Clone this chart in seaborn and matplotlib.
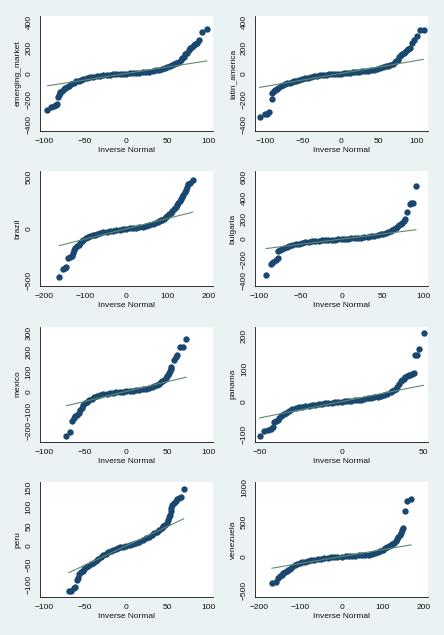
import matplotlib
matplotlib.use("Agg")
import matplotlib.pyplot as plt
import seaborn as sns

# quantile pairs: x = inverse normal, y = ordered values
em_x = [-96, -91, -88, -86, -84, -83, -82, -81, -80, -78, -76, -74, -72, -70,
        -67, -64, -61, -58, -55, -52, -48, -44, -40, -36, -32, -28, -24, -20,
        -16, -12, -8, -4, 0, 4, 8, 12, 16, 20, 24, 28, 32, 36, 40, 44, 47, 50,
        53, 56, 58, 60, 62, 64, 66, 68, 70, 72, 74, 76, 78, 80, 82, 84, 86, 88,
        92, 98]
em_y = [-280, -258, -250, -245, -238, -179, -166, -155, -145, -133, -122, -112,
        -104, -94, -84, -74, -62, -55, -49, -43, -36, -30, -25, -21, -18, -15,
        -12, -9, -6, -4, -3, -1, 0, 2, 3, 5, 7, 9, 12, 15, 19, 24, 29, 36, 42,
        49, 57, 65, 73, 80, 85, 92, 106, 120, 132, 148, 162, 179, 197, 208, 218,
        226, 234, 257, 322, 348]

la_x = [-108, -101, -98, -95, -92, -91, -89, -87, -85, -83, -80, -77, -74, -71,
        -68, -65, -62, -59, -56, -52, -48, -44, -40, -36, -32, -28, -24, -20,
        -16, -12, -8, -4, 0, 4, 8, 12, 16, 20, 24, 28, 32, 36, 40, 44, 48, 52,
        56, 60, 63, 66, 69, 72, 74, 76, 78, 80, 82, 84, 86, 88, 90, 92, 95, 98,
        101, 105, 110]
la_y = [-337, -315, -313, -300, -200, -150, -138, -128, -120, -110, -100, -91,
        -84, -77, -71, -66, -60, -55, -50, -44, -38, -33, -27, -23, -19, -15,
        -12, -9, -6, -4, -2, -1, 0, 2, 4, 6, 8, 11, 13, 16, 19, 22, 26, 31, 36,
        42, 48, 56, 62, 69, 77, 87, 96, 108, 128, 140, 150, 160, 170, 180, 190,
        200, 235, 260, 295, 334, 334]

br_x = [-163, -154, -150, -146, -141, -137, -133, -130, -127, -124, -120, -116,
        -112, -108, -104, -99, -94, -88, -82, -76, -70, -64, -56, -48, -40, -32,
        -24, -16, -8, 0, 8, 16, 24, 32, 40, 48, 56, 64, 70, 76, 80, 84, 88, 92,
        96, 100, 104, 108, 112, 116, 120, 124, 127, 130, 133, 136, 139, 142,
        145, 148, 151, 155, 162]
br_y = [-469, -395, -385, -372, -287, -276, -268, -235, -210, -190, -170, -153,
        -138, -121, -108, -94, -84, -74, -65, -57, -49, -42, -34, -27, -22, -17,
        -12, -8, -4, 0, 4, 8, 12, 17, 22, 27, 34, 43, 52, 63, 72, 82, 90, 98,
        110, 124, 140, 156, 172, 190, 210, 234, 250, 270, 290, 310, 330, 355,
        372, 410, 435, 445, 472]

bg_x = [-92, -86, -83, -80, -78, -77, -75, -73, -70, -67, -64, -60, -56, -52,
        -48, -44, -40, -36, -32, -28, -24, -20, -16, -12, -8, -4, 0, 4, 8, 12,
        16, 20, 24, 28, 32, 36, 40, 44, 48, 51, 54, 57, 60, 62, 64, 66, 68, 70,
        72, 74, 76, 78, 80, 83, 85, 87, 91]
bg_y = [-353, -243, -223, -201, -184, -115, -105, -97, -88, -78, -70, -60, -52,
        -45, -39, -33, -28, -23, -19, -16, -13, -10, -8, -6, -4, -2, 0, 2, 4, 6,
        8, 11, 14, 18, 22, 26, 30, 37, 45, 52, 60, 70, 82, 90, 100, 110, 122,
        135, 147, 160, 175, 194, 259, 343, 347, 352, 518]

mx_x = [-73, -68, -66, -64, -62, -60, -58, -56, -54, -52, -50, -48, -45, -42,
        -39, -36, -32, -28, -24, -20, -16, -12, -8, -4, 0, 4, 8, 12, 16, 20, 24,
        28, 31, 34, 37, 40, 42, 44, 46, 48, 50, 51, 52, 53, 54, 55, 58, 60, 62,
        65, 69, 73]
mx_y = [-225, -209, -151, -134, -125, -118, -110, -95, -83, -70, -60, -52, -44,
        -36, -30, -25, -19, -14, -11, -8, -6, -4, -3, -1, 0, 2, 3, 5, 7, 10, 13,
        17, 21, 26, 32, 40, 46, 53, 60, 68, 78, 86, 95, 104, 114, 124, 161, 178,
        188, 226, 229, 265]

pa_x = [-50, -47, -45, -43, -42, -41, -40, -39, -38, -37, -36, -35, -34, -32,
        -30, -28, -26, -24, -22, -20, -18, -16, -14, -12, -10, -8, -6, -4, -2,
        0, 2, 4, 6, 8, 10, 12, 14, 16, 18, 20, 22, 24, 26, 28, 30, 31, 32, 33,
        34, 35, 36, 37, 38, 39, 40, 41, 42, 43, 44, 45, 46, 47, 50]
pa_y = [-104, -91, -88, -84, -78, -62, -58, -55, -50, -44, -40, -37, -34, -29,
        -24, -21, -18, -16, -14, -12, -11, -10, -8, -7, -5, -4, -3, -2, -1, 0,
        1, 2, 3, 4, 5, 6, 8, 10, 11, 13, 15, 18, 21, 24, 28, 31, 35, 40, 46, 53,
        62, 66, 70, 74, 77, 80, 82, 85, 87, 141, 144, 160, 211]

pe_x = [-70, -67, -64, -62, -60, -59, -57, -55, -53, -51, -49, -46, -43, -40,
        -37, -34, -31, -28, -25, -22, -19, -16, -13, -10, -7, -4, 0, 4, 8, 12,
        16, 20, 24, 28, 31, 34, 37, 40, 43, 45, 47, 49, 51, 52, 53, 54, 55, 56,
        58, 60, 62, 64, 66, 70]
pe_y = [-117, -116, -110, -108, -90, -84, -73, -69, -65, -60, -56, -52, -48,
        -44, -39, -34, -30, -25, -21, -17, -14, -11, -8, -6, -4, -2, 0, 2, 5, 8,
        11, 15, 19, 24, 28, 32, 36, 41, 46, 50, 55, 60, 68, 74, 81, 89, 98, 105,
        111, 116, 121, 124, 127, 146]

ve_x = [-170, -160, -155, -150, -146, -142, -138, -134, -130, -125, -120, -114,
        -108, -102, -96, -90, -82, -74, -66, -58, -50, -42, -34, -26, -18, -10,
        0, 10, 18, 26, 34, 42, 50, 58, 66, 74, 82, 88, 94, 100, 106, 112, 116,
        120, 124, 128, 132, 136, 139, 142, 145, 148, 151, 154, 160, 170]
ve_y = [-390, -366, -310, -280, -262, -245, -228, -210, -195, -175, -150, -128,
        -112, -98, -85, -73, -59, -50, -43, -36, -29, -23, -17, -13, -9, -5, 0,
        4, 7, 10, 13, 17, 21, 25, 29, 42, 59, 70, 85, 98, 118, 135, 150, 165,
        180, 200, 225, 250, 290, 320, 350, 390, 410, 668, 805, 839]

names = ["emerging_market", "latin_america", "brazil", "bulgaria",
         "mexico", "panama", "peru", "venezuela"]
xs_all = [em_x, la_x, br_x, bg_x, mx_x, pa_x, pe_x, ve_x]
ys_all = [em_y, la_y, br_y, bg_y, mx_y, pa_y, pe_y, ve_y]
xticks_all = [[-100, -50, 0, 50, 100], [-100, -50, 0, 50, 100],
              [-200, -100, 0, 100, 200], [-100, -50, 0, 50, 100],
              [-100, -50, 0, 50, 100], [-50, 0, 50],
              [-100, -50, 0, 50, 100], [-200, -100, 0, 100, 200]]
yticks_all = [[-400, -200, 0, 200, 400], [-400, -200, 0, 200, 400],
              [-500, 0, 500], [-400, -200, 0, 200, 400, 600],
              [-200, -100, 0, 100, 200, 300], [-100, 0, 100, 200],
              [-100, -50, 0, 50, 100, 150], [-500, 0, 500, 1000]]

BG = "#EAF2F3"
DOT = "#1A476F"
REF = "#5E8B6C"
INK = "#111111"

sns.set_style("white")
plt.rcParams["font.family"] = ["Liberation Sans", "DejaVu Sans"]

W, H = 444, 635
fig = plt.figure(figsize=(W / 100, H / 100), dpi=100, facecolor=BG)

for i, name in enumerate(names):
    col, row = i % 2, i // 2
    left, right = (39.5, 213) if col == 0 else (255, 428)
    top = 16 + 155.3 * row
    bottom = 131 + 155.3 * row
    ax = fig.add_axes([left / W, 1 - bottom / H, (right - left) / W, (bottom - top) / H])
    ax.set_facecolor("white")

    xs, ys = xs_all[i], ys_all[i]
    sns.scatterplot(x=xs, y=ys, ax=ax, color=DOT, s=21, linewidth=0, zorder=2)
    # reference line y = x over the range of the inverse normal
    sns.lineplot(x=[min(xs), max(xs)], y=[min(xs), max(xs)], ax=ax,
                 color=REF, linewidth=0.8, zorder=3)

    xt, yt = xticks_all[i], yticks_all[i]
    lo, hi = min(xt[0], min(xs)), max(xt[-1], max(xs))
    pad = 4.5 * (hi - lo) / ((right - left) - 9)
    ax.set_xlim(lo - pad, hi + pad)
    lo, hi = min(yt[0], min(ys)), max(yt[-1], max(ys))
    pad = 6 * (hi - lo) / ((bottom - top) - 12)
    ax.set_ylim(lo - pad, hi + pad)

    ax.set_xticks(xt)
    ax.set_yticks(yt)
    ax.tick_params(axis="both", direction="out", length=3, width=0.6,
                   color=INK, labelsize=6, labelcolor=INK, pad=2)
    ax.tick_params(axis="y", labelrotation=90)
    for lab in ax.get_yticklabels():
        lab.set_verticalalignment("center")

    for side in ["top", "right"]:
        ax.spines[side].set_visible(False)
    for side in ["left", "bottom"]:
        ax.spines[side].set_color(INK)
        ax.spines[side].set_linewidth(0.6)

    ax.set_xlabel("Inverse Normal", fontsize=6, color=INK, labelpad=1.5)
    ax.set_ylabel(name, fontsize=6, color=INK, labelpad=3)

fig.savefig("out.png", dpi=100, facecolor=BG)
